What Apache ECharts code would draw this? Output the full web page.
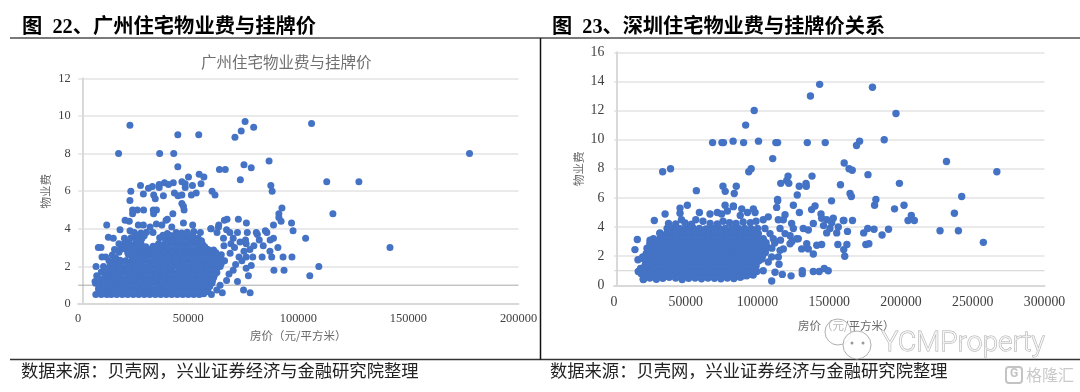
<!DOCTYPE html>
<html><head><meta charset="utf-8">
<style>html,body{margin:0;padding:0;background:#fff}#c{width:1080px;height:392px}</style>
<script src="https://cdn.jsdelivr.net/npm/echarts@6/dist/echarts.min.js"></script>
</head><body><div id="c"></div>
<script>
const gzTitle='图  22、广州住宅物业费与挂牌价';
const szTitle='图  23、深圳住宅物业费与挂牌价关系';
const gzChartTitle='广州住宅物业费与挂牌价';
const sourceText='数据来源：贝壳网，兴业证券经济与金融研究院整理';
const gzXTicks=[0,50000,100000,150000,200000];
const szXTicks=[0,50000,100000,150000,200000,250000,300000];

const gzUpper=[[18340,8],[23500,9.5],[37000,8],[43400,8],[45250,9],[45250,7.3],[54750,9],[71200,8.87],[74050,9.2],[75800,9.7],[79700,9.4],[106000,9.6],[177750,8],[86700,7.6],[75300,7.4],[78600,7.25],[64150,7.15],[66800,7.15],[73650,6.6],[87500,6.3],[88100,6],[112900,6.5],[127500,6.5],[54950,6.9],[57100,6.75],[50100,6.75],
[28300,6.3],[31900,6.15],[33700,6.25],[36800,6.35],[36800,6.2],[39200,6.45],[41000,6.35],[43200,6.45],[47100,6.5],[48600,6.4],[48600,6.2],[51900,6.3],[55800,6.4],
[23900,6],[29600,5.85],[34300,5.8],[35000,5.6],[38700,5.75],[43700,5.9],[45350,5.75],[47100,5.8],[51400,5.8],[53600,5.9],[60800,6],[62150,5.8],[23500,5.5],
[47100,5.35],[47800,5.2],[48100,5],[43000,4.8],[24700,5],[26850,5],[29700,5],[34100,5],[35550,5],[24700,4.8],[34250,4.8]];
const gzRight=[[115700,4.8],[92550,5.1],[91150,4.8],[91150,4.6],[92150,4.4],[96900,4.3],[97600,3.9],[103300,3.5],[88700,4.2],[141630,3],[109300,2],[105200,1.5],[97100,2.5],[93050,2.5],[90700,3],[88900,1.8],[93500,1.8],[87900,2.5],[87100,2.8],[88700,3.5],[87200,3.4],[85000,3.9],[83550,2.5],[84050,3.1],[80900,3.8],[82250,3.4],[79800,3.1],[79300,2.5],[78000,2.9],[72750,4.5],[76400,4.3],[76800,3.8],[76000,3.4],[76300,3.2],[72350,3.8],[67600,4.5],[66400,4.45],[63850,4.2],[60200,4],[67400,3.95],[68900,3.8],[63050,3.8],[66000,3.5],[70400,3.5],[69400,3.2],[66200,3.1],[73050,2.5],[75300,2.8],[76300,2.5],[74350,2.3],[78600,2.05],[76300,1.9],[77300,1.5],[72350,1.2],[75100,.75],[78100,.6],[70400,1.8],[67400,1.25],[65450,.6],[64450,1],[60500,.5],[62950,.75],[60400,4],[63700,4.1],[81400,3.7],[85700,3.8],[71000,3],[73500,3.3],[69000,2.7],[71500,2.1],[68500,1.6]];
const gzEdge=[[12950,4.2],[9150,3],[10350,3],[12500,2.5],[10800,2.5],[8100,2],[7650,1.2],[8400,1.5],[13700,3.55],[15950,3.5],[19000,3.95],[21300,4.45],[23200,4.4],[23550,3.9],[27300,4.2],[29600,4.2],[32650,4.1],[39900,4.45],[47800,4.3],[52000,4.2],[42500,4.1],[38000,4.2],[40500,4.5],[35500,4.25]];
const gzDense=[
[8000,.5],[10500,.5],[13000,.5],[15000,.5],[17500,.5],[20000,.5],[22500,.5],[25000,.5],[27500,.5],[30000,.5],[32500,.5],[35000,.5],[37500,.5],[40000,.5],[42500,.5],[45000,.5],[47500,.5],[50000,.5],[52500,.5],[55000,.5],[57000,.55],
[9200,.8],[11800,.78],[14300,.82],[16700,.8],[19200,.76],[21800,.82],[24200,.8],[26700,.78],[29300,.82],[31700,.8],[34200,.76],[36800,.8],[39300,.82],[41700,.78],[44200,.8],[46800,.82],[49200,.78],[51700,.8],[54200,.82],[56800,.78],[59000,.8],
[7900,1.1],[10500,1.08],[13000,1.12],[15500,1.1],[18000,1.07],[20500,1.1],[23000,1.13],[25500,1.1],[28000,1.08],[30500,1.1],[33000,1.12],[35500,1.1],[38000,1.08],[40500,1.12],[43000,1.1],[45500,1.07],[48000,1.1],[50500,1.12],[53000,1.1],[55500,1.08],[58000,1.1],[60800,1.12],
[9000,1.4],[11800,1.38],[14300,1.42],[16700,1.4],[19200,1.37],[21800,1.4],[24200,1.42],[26700,1.4],[29300,1.38],[31700,1.4],[34200,1.43],[36800,1.4],[39300,1.38],[41700,1.42],[44200,1.4],[46800,1.37],[49200,1.4],[51700,1.42],[54200,1.4],[56800,1.38],[59300,1.42],[61500,1.4],
[10500,1.7],[13000,1.72],[15500,1.68],[18000,1.7],[20500,1.72],[23000,1.7],[25500,1.67],[28000,1.7],[30500,1.73],[33000,1.7],[35500,1.68],[38000,1.7],[40500,1.72],[43000,1.7],[45500,1.68],[48000,1.72],[50500,1.7],[53000,1.67],[55500,1.7],[58000,1.72],[60500,1.7],[63000,1.68],
[11500,2],[14300,1.98],[16700,2.02],[19200,2],[21800,1.97],[24200,2],[26700,2.03],[29300,2],[31700,1.98],[34200,2.02],[36800,2],[39300,1.97],[41700,2],[44200,2.03],[46800,2],[49200,1.98],[51700,2.02],[54200,2],[56800,1.97],[59300,2],[61800,2.03],[64500,2],
[14000,2.3],[16500,2.28],[19000,2.32],[21500,2.3],[24000,2.27],[26500,2.3],[29000,2.33],[31500,2.3],[34000,2.28],[36500,2.32],[39000,2.3],[41500,2.27],[44000,2.3],[46500,2.33],[49000,2.3],[51500,2.28],[54000,2.32],[56500,2.3],[59000,2.27],[61500,2.3],[64000,2.33],[66500,2.3],
[15500,2.6],[22800,2.62],[25300,2.58],[27800,2.6],[30300,2.63],[32800,2.6],[35300,2.58],[37800,2.62],[40300,2.6],[42800,2.57],[45300,2.6],[47800,2.63],[50300,2.6],[52800,2.58],[55300,2.62],[57800,2.6],[60300,2.57],[62800,2.6],[65000,2.62],
[16500,2.9],[19000,2.88],[21500,2.92],[24000,2.9],[26500,2.87],[29000,2.9],[31500,2.93],[34000,2.9],[36500,2.88],[39000,2.92],[41500,2.9],[44000,2.87],[46500,2.9],[49000,2.93],[51500,2.9],[54000,2.88],[56500,2.92],[59000,2.9],[61500,2.87],
[18500,3.2],[21000,3.22],[23500,3.18],[26000,3.2],[28500,3.23],[36500,3.2],[39000,3.18],[41500,3.22],[44000,3.2],[46500,3.17],[49000,3.2],[51500,3.23],[54000,3.2],[56500,3.18],
[21000,3.5],[24000,3.52],[26500,3.48],[29000,3.5],[37000,3.52],[39500,3.5],[42000,3.47],[44500,3.5],[47000,3.53],[49500,3.5],[52000,3.48],[54500,3.5],
[25500,3.8],[28500,3.78],[31000,3.82],[34000,3.8],[40500,3.75],[44500,3.8],[47000,3.78],[49500,3.82],[52500,3.85],[55500,3.8]];
const gzFill=[
[11000,.65],[14500,.63],[18500,.67],[21200,.65],[24800,.62],[28500,.66],[31200,.64],[34800,.67],[38500,.63],[41200,.65],[44800,.66],[48500,.63],[51200,.67],[54800,.64],[58300,.65],
[9500,.95],[12200,.93],[16000,.96],[19500,.94],[22700,.97],[26000,.93],[29200,.95],[32700,.96],[36000,.94],[39200,.97],[42700,.93],[46000,.95],[49200,.96],[52700,.94],[56000,.97],[59800,.95],
[11200,1.25],[14800,1.23],[18000,1.26],[21200,1.24],[24700,1.27],[28000,1.23],[31200,1.25],[34700,1.26],[38000,1.24],[41200,1.27],[44700,1.23],[48000,1.25],[51200,1.26],[54700,1.24],[58000,1.27],[61000,1.25],
[12400,1.55],[15800,1.53],[19000,1.56],[22200,1.54],[25700,1.57],[29000,1.53],[32200,1.55],[35700,1.56],[39000,1.54],[42200,1.57],[45700,1.53],[49000,1.55],[52200,1.56],[55700,1.54],[59000,1.57],[62000,1.55],
[12800,1.85],[16000,1.83],[19200,1.86],[22700,1.84],[26000,1.87],[29200,1.83],[32700,1.85],[36000,1.86],[39200,1.84],[42700,1.87],[46000,1.83],[49200,1.85],[52700,1.86],[56000,1.84],[59200,1.87],[62700,1.85],
[15500,2.15],[18800,2.13],[22000,2.16],[25200,2.14],[28700,2.17],[32000,2.13],[35200,2.15],[38700,2.16],[42000,2.14],[45200,2.17],[48700,2.13],[52000,2.15],[55200,2.16],[58700,2.14],[62000,2.17],[65000,2.15],
[17000,2.45],[24800,2.43],[28000,2.46],[31200,2.44],[34700,2.47],[38000,2.43],[41200,2.45],[44700,2.46],[48000,2.44],[51200,2.47],[54700,2.43],[58000,2.45],[61200,2.46],[64700,2.44],
[18500,2.75],[22500,2.73],[26000,2.76],[29200,2.74],[32700,2.77],[36000,2.73],[39200,2.75],[42700,2.76],[46000,2.74],[49200,2.77],[52700,2.73],[56000,2.75],[59200,2.76],[62500,2.74],
[20500,3.05],[24000,3.03],[27200,3.06],[30700,3.04],[34000,3.07],[37200,3.03],[40700,3.05],[44000,3.06],[47200,3.04],[50700,3.07],[54000,3.03],[57500,3.05],
[23000,3.35],[26500,3.33],[40000,3.36],[43200,3.34],[46700,3.37],[50000,3.33],[53200,3.35],[56000,3.36],
[27000,3.65],[30000,3.63],[38500,3.66],[42000,3.64],[45200,3.67],[48700,3.63],[52000,3.65]];

const szUpper=[[33900,7.8],[39400,8],[57400,6.5],[68700,9.8],[75200,9.8],[76300,9.8],[83000,9.9],[90300,9.8],[91750,11],[97700,12],[100700,9.9],[93900,7.8],[95600,8],[75950,6.8],[77500,6.45],[83800,6.3],[85200,6.8],[110600,8.7],[112800,9.8],[114000,9.8],[136900,13],[143300,13.8],[180100,13.6],[196500,11.8],[188300,10],[171150,9.9],[169000,9.6],[147200,9.8],[134700,9.8],[160400,8.4],[163800,8],[166000,7.9],[177000,7.6],[198900,7],[231700,8.5],[266800,7.8],[242300,6.1],[157800,6.9],[164500,6.3],[165400,6.1],[138000,7.5],[121300,7.5],[120400,7.2],[121800,7],[116200,7],[129100,6.8],[133800,7],[134000,6.8],[127700,6.2],[114000,5.9],[151600,5.8],[182500,5.9]];
const szRight=[[181600,5.5],[195500,5.25],[202100,5.5],[207200,4.8],[204900,4.45],[209300,4.45],[237200,4.95],[227200,3.75],[240000,3.75],[257400,2.95],[191300,3.85],[186800,3.45],[181200,3.85],[176800,3.9],[174000,3.6],[175500,2.8],[177600,2.85],[166200,4.45],[160200,4.45],[162700,3.7],[162300,2.8],[156000,2.8],[160100,2.45],[160800,2],
[114050,5.8],[113350,5.35],[119200,4.85],[125000,5.5],[129200,5],[137700,5.2],[140100,5.45],[144250,4.9],[114500,4.5],[118000,4.5],[123800,4.25],[125000,3.9],[115700,3.9],[107500,4.7],[97100,5.25],[89000,5.25],[83200,5.45],[98300,5],[104000,4.5],[131900,3.9],[138900,4.25],[135400,3.8],[144700,4.6],[148200,4.5],[152800,4.6],[159800,4.45],[150500,3.9],[156300,4],[155200,3.6],[148200,3.6],[151700,4.3],[146000,4.1],
[127300,3.2],[134300,2.85],[141300,2.75],[144700,2.8],[122700,2.85],[118000,2.5],[115700,2.4],[130800,2.5],[135400,2.5],[138900,2.15],[114500,1.95],[109900,1.95],[107500,1.6],[115000,1.45],[104000,1],[112200,.9],[117300,.75],[123400,.65],[131200,.8],[131200,1],[138900,.95],[143000,.95],[146500,1.15],[149300,1],[109900,.3],
[104000,3.1],[108700,3.55],[111000,3.2],[105200,3.9],[100600,3.55],[122700,3.4],[119200,3.55],[128400,3.2],[124000,3],[112000,2.9],[107000,2.6],[116000,3.1]];
const szEdge=[[28100,4.45],[16250,3.15],[14600,2.45],[16700,1.75],[20000,1.95],[16900,.95],[20400,.4],[35600,4.9],[46000,5.3],[51100,5.5],[46000,4.95],[59500,5],[66900,4.9],[77400,5.5],[83200,5.4],[75000,4.9],[25100,3.1],[32000,3.6],[47000,4.5],[72000,5],[88000,4.8],[93000,5],[79000,5.1],[57000,4.5],[62000,4.4]];
const szDense=[
[20500,.42],[25000,.5],[29500,.42],[34000,.48],[38500,.55],[43000,.5],[47500,.4],[52000,.48],[56500,.5],[61000,.45],[65500,.5],[70000,.48],[74500,.45],[79000,.5],[83500,.47],[88000,.55],[92500,.65],[97000,.7],
[19000,.8],[23000,.78],[27500,.82],[32000,.8],[36500,.77],[41000,.8],[45500,.83],[50000,.8],[54500,.78],[59000,.82],[63500,.8],[68000,.77],[72500,.8],[77000,.83],[81500,.8],[86000,.78],[90500,.82],[95000,.9],[99500,.95],
[18500,1.15],[25000,1.13],[29500,1.17],[34000,1.15],[38500,1.12],[43000,1.15],[47500,1.18],[52000,1.15],[56500,1.13],[61000,1.17],[65500,1.15],[70000,1.12],[74500,1.15],[79000,1.18],[83500,1.15],[88000,1.13],[92500,1.17],[97000,1.15],
[22000,1.48],[27000,1.5],[31500,1.47],[36000,1.5],[40500,1.53],[45000,1.5],[49500,1.48],[54000,1.52],[58500,1.5],[63000,1.47],[67500,1.5],[72000,1.53],[76500,1.5],[81000,1.48],[85500,1.52],[90000,1.5],[94500,1.47],[99000,1.5],
[19500,1.85],[24500,1.83],[29000,1.87],[33500,1.85],[38000,1.82],[42500,1.85],[47000,1.88],[51500,1.85],[56000,1.83],[60500,1.87],[65000,1.85],[69500,1.82],[74000,1.85],[78500,1.88],[83000,1.85],[87500,1.83],[92000,1.87],[96500,1.85],[103000,1.8],
[22500,2.18],[27000,2.2],[31500,2.17],[36000,2.2],[40500,2.23],[45000,2.2],[49500,2.18],[54000,2.22],[58500,2.2],[63000,2.17],[67500,2.2],[72000,2.23],[76500,2.2],[81000,2.18],[85500,2.22],[90000,2.2],[94500,2.17],[99000,2.2],[105500,2.25],
[23000,2.55],[27500,2.53],[32000,2.57],[36500,2.55],[41000,2.52],[45500,2.55],[50000,2.58],[54500,2.55],[59000,2.53],[63500,2.57],[68000,2.55],[72500,2.52],[77000,2.55],[81500,2.58],[86000,2.55],[90500,2.53],[95000,2.57],[99500,2.55],[104000,2.52],[110000,2.55],
[25000,2.88],[29500,2.9],[34000,2.87],[38500,2.9],[43000,2.93],[47500,2.9],[52000,2.88],[56500,2.92],[61000,2.9],[65500,2.87],[70000,2.9],[74500,2.93],[79000,2.9],[83500,2.88],[88000,2.92],[92500,2.9],[97000,2.87],[101500,2.9],[106000,2.93],
[27500,3.2],[32000,3.18],[36500,3.22],[41000,3.2],[45500,3.17],[50000,3.2],[54500,3.23],[59000,3.2],[63500,3.18],[68000,3.22],[72500,3.2],[77000,3.17],[81500,3.2],[86000,3.23],[90500,3.2],[95000,3.18],[99500,3.22],[104000,3.2],
[32000,3.55],[36500,3.53],[41000,3.57],[45500,3.55],[50000,3.52],[54500,3.55],[59000,3.58],[63500,3.55],[68000,3.53],[72500,3.57],[77000,3.55],[81500,3.52],[86000,3.55],[90500,3.58],[95000,3.55],
[37000,3.9],[41500,3.92],[46000,3.88],[50500,3.9],[55000,3.93],[59500,3.9],[64000,3.87],[68500,3.9],[73000,3.93],[77500,3.9],[82000,3.88],[86500,3.92],[91000,3.9],[95500,3.87],[100000,3.9],
[38000,4.25],[43000,4.22],[49500,4.28],[54000,4.2],[67000,4.25],[72000,4.22],[76000,4.4],[80500,4.3],[85000,4.25],[90000,4.35],[95000,4.3],[99000,4.4]];
const szFill=[
[23000,.63],[27500,.62],[31800,.65],[36000,.62],[40500,.66],[45000,.63],[49500,.62],[54000,.65],[58500,.63],[63000,.62],[67500,.66],[72000,.63],[76500,.62],[81000,.65],[85500,.63],[90000,.66],[94000,.75],
[21000,.98],[25500,.96],[30000,.99],[34500,.97],[39000,.95],[43500,.98],[48000,.96],[52500,.99],[57000,.97],[61500,.95],[66000,.98],[70500,.96],[75000,.99],[79500,.97],[84000,.95],[88500,.98],[93000,.96],[97500,.99],
[21500,1.32],[27000,1.3],[31500,1.33],[36000,1.31],[40500,1.29],[45000,1.32],[49500,1.3],[54000,1.33],[58500,1.31],[63000,1.29],[67500,1.32],[72000,1.3],[76500,1.33],[81000,1.31],[85500,1.29],[90000,1.32],[94500,1.3],[99000,1.33],
[24500,1.67],[29000,1.65],[33500,1.68],[38000,1.66],[42500,1.64],[47000,1.67],[51500,1.65],[56000,1.68],[60500,1.66],[65000,1.64],[69500,1.67],[74000,1.65],[78500,1.68],[83000,1.66],[87500,1.64],[92000,1.67],[96500,1.65],[101000,1.68],
[22000,2.02],[26500,2],[31000,2.03],[35500,2.01],[40000,1.99],[44500,2.02],[49000,2],[53500,2.03],[58000,2.01],[62500,1.99],[67000,2.02],[71500,2],[76000,2.03],[80500,2.01],[85000,1.99],[89500,2.02],[94000,2],[98500,2.03],[103500,2.02],
[25000,2.37],[29500,2.35],[34000,2.38],[38500,2.36],[43000,2.34],[47500,2.37],[52000,2.35],[56500,2.38],[61000,2.36],[65500,2.34],[70000,2.37],[74500,2.35],[79000,2.38],[83500,2.36],[88000,2.34],[92500,2.37],[97000,2.35],[101500,2.38],
[27000,2.72],[31500,2.7],[36000,2.73],[40500,2.71],[45000,2.69],[49500,2.72],[54000,2.7],[58500,2.73],[63000,2.71],[67500,2.69],[72000,2.72],[76500,2.7],[81000,2.73],[85500,2.71],[90000,2.69],[94500,2.72],[99000,2.7],[103500,2.73],
[29500,3.05],[34000,3.03],[38500,3.06],[43000,3.04],[47500,3.02],[52000,3.05],[56500,3.03],[61000,3.06],[65500,3.04],[70000,3.02],[74500,3.05],[79000,3.03],[83500,3.06],[88000,3.04],[92500,3.02],[97000,3.05],[101500,3.03],
[34000,3.38],[38500,3.36],[43000,3.39],[47500,3.37],[52000,3.35],[56500,3.38],[61000,3.36],[65500,3.39],[70000,3.37],[74500,3.35],[79000,3.38],[83500,3.36],[88000,3.39],[92500,3.37],[97000,3.35],
[38500,3.72],[43000,3.7],[47500,3.73],[52000,3.71],[56500,3.69],[61000,3.72],[65500,3.7],[70000,3.73],[74500,3.71],[79000,3.69],[83500,3.72],[88000,3.7],[92500,3.73],[97000,3.71]];

const gzBaseline=[[0,1],[200000,1]];
const szBaseline=[[0,1],[300000,1]];
const gzAll=gzUpper.concat(gzRight,gzEdge,gzDense,gzFill);
const szAll=szUpper.concat(szRight,szEdge,szDense,szFill);

const SERIF='"Liberation Serif","Noto Sans CJK SC",serif';
const CJK='"Noto Sans CJK SC",sans-serif';
const TICK='#404040', NAME='#6a6a6a', DOT='#4472c4', GRID='#e3e3e3', AX='#d9d9d9';

function txt(text,left,top,size,weight,color){
  return {text:text,left:left,top:top,padding:0,textStyle:{fontFamily:SERIF,fontSize:size,fontWeight:weight,color:color}};
}
function line(x1,y1,x2,y2,color,w){
  return {type:'line',shape:{x1,y1,x2,y2},style:{stroke:color,lineWidth:w},silent:true,z:5};
}
function xAx(idx,max,interval,size,margin,gap,pad){
  return {type:'value',gridIndex:idx,min:0,max:max,interval:interval,name:'房价（元/平方米）',nameLocation:'middle',nameGap:gap,
    nameTextStyle:{fontFamily:CJK,fontSize:11.5,color:NAME,padding:pad},
    axisLine:{onZero:false,lineStyle:{color:AX,width:2}},axisTick:{show:false},splitLine:{show:false},
    axisLabel:{margin:margin,fontFamily:SERIF,fontSize:size,color:TICK,showMinLabel:true,showMaxLabel:true,formatter:function(v){return String(v);}}};
}
function yAx(idx,max,offset,size,margin,gap){
  return {type:'value',gridIndex:idx,min:0,max:max,interval:2,offset:offset,name:'物业费',nameLocation:'middle',nameGap:gap,nameRotate:90,
    nameTextStyle:{fontFamily:CJK,fontSize:11.5,color:NAME},
    axisLine:{show:true,lineStyle:{color:AX,width:2}},axisTick:{show:false},
    splitLine:{show:true,lineStyle:{color:GRID,width:1.5}},
    axisLabel:{margin:margin,fontFamily:SERIF,fontSize:size,color:TICK}};
}
function sc(idx,data,size){
  return {type:'scatter',xAxisIndex:idx,yAxisIndex:idx,data:data,symbolSize:size,z:3,itemStyle:{color:DOT,opacity:1},silent:true,animation:false};
}
function base(idx,data,color){
  return {type:'line',xAxisIndex:idx,yAxisIndex:idx,data:data,z:1,symbol:'none',silent:true,animation:false,lineStyle:{color:color,width:1}};
}
const chart=echarts.init(document.getElementById('c'),null,{renderer:'canvas'});
chart.setOption({
  animation:false,backgroundColor:'#fff',
  title:[
    txt(gzTitle,22,18,20.3,'bold','#000'),
    txt(szTitle,552,18,20.2,'bold','#000'),
    txt(sourceText,21,364,17.3,'normal','#222'),
    txt(sourceText,550,364,17.3,'normal','#222'),
    txt(gzChartTitle,201,56,15.5,'normal','#707070')
  ],
  grid:[
    {left:78.2,top:78.3,width:440.3,height:225.7},
    {left:614,top:52.3,width:430.5,height:233}
  ],
  xAxis:[xAx(0,200000,50000,12.4,9,24,0),xAx(1,300000,50000,13.8,10,35,[0,0,0,34])],
  yAxis:[yAx(0,12,-5,12.4,12.5,31.5),yAx(1,16,-2.4,13.8,12,32.5)],
  series:[base(0,gzBaseline,'#a8a8a8'),base(1,szBaseline,'#d2d2d2'),sc(0,gzAll,7),sc(1,szAll,7.4)],
  graphic:[
    line(10,38,1080,38,'#7a7a7a',2),
    line(10,359.5,1080,359.5,'#333',1.5),
    line(540.5,38,540.5,359.5,'#111',1.5),
    {type:'circle',shape:{cx:838,cy:332,r:13},style:{fill:'rgba(255,255,255,.5)',stroke:'#b0b0b0',lineWidth:1},silent:true,z:6},
    {type:'circle',shape:{cx:857,cy:345,r:14},style:{fill:'rgba(255,255,255,.85)',stroke:'#b0b0b0',lineWidth:1},silent:true,z:6},
    {type:'circle',shape:{cx:852,cy:343,r:1.5},style:{fill:'#999'},silent:true,z:7},
    {type:'circle',shape:{cx:863,cy:343,r:1.5},style:{fill:'#999'},silent:true,z:7},
    {type:'text',left:881,top:329,style:{text:'YCMProperty',fontFamily:'Roboto',fontSize:28,fontWeight:300,fill:'rgba(255,255,255,.75)',stroke:'#adadad',lineWidth:1},silent:true,z:6},
    {type:'rect',shape:{x:1006,y:367,width:16,height:16,r:3},style:{fill:'#fff',stroke:'#c4c4c4',lineWidth:2},silent:true,z:6},
    {type:'text',left:1010,top:368,style:{text:'G',fontFamily:'Roboto',fontSize:12,fontWeight:'bold',fill:'#c4c4c4'},silent:true,z:7},
    {type:'text',left:1026,top:367,style:{text:'格隆汇',fontFamily:CJK,fontSize:16,fill:'#cacaca'},silent:true,z:6}
  ]
});
</script></body></html>
